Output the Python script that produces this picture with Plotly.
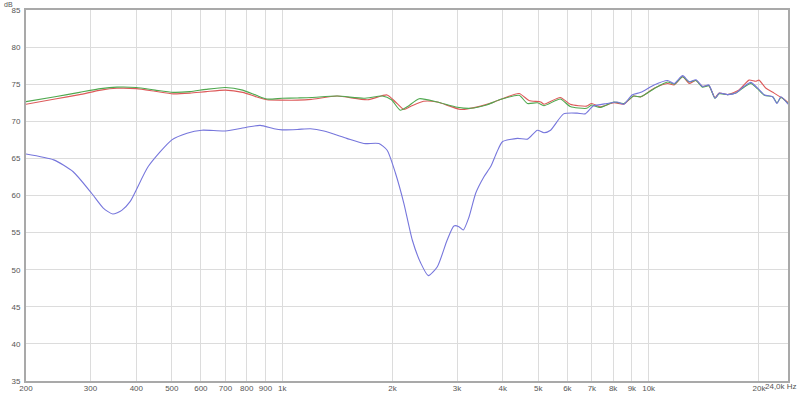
import plotly.graph_objects as go
import math

# ---- data (Hz, dB) ----
low_f = [200, 240, 280, 320, 354, 400, 450, 504, 560, 620, 700, 780, 850, 909, 1000]
green_low = [72.65, 73.3, 73.9, 74.4, 74.6, 74.55, 74.2, 73.9, 74.0, 74.3, 74.55, 74.2, 73.5, 73.0, 73.1]
red_low = [72.3, 73.0, 73.6, 74.2, 74.45, 74.4, 74.05, 73.7, 73.8, 74.0, 74.2, 73.9, 73.3, 72.9, 72.85]

green_f = [1100, 1200, 1412, 1670, 1875, 1987, 2100, 2200, 2365, 2650, 3005, 3265, 3610, 3920,
           4430, 4670, 4970, 5180, 5740, 6110, 6770, 6990, 7360, 8040, 8550, 9100, 9520, 10350,
           11260, 11740, 12380, 12900, 13460, 14030, 14600, 15170, 15580, 16430, 17300, 18200,
           19000, 19800, 20700, 21800, 22400, 22960, 24000]
green_hi = [73.15, 73.2, 73.4, 73.1, 73.4, 72.9, 71.5, 72.0, 73.05, 72.6, 71.9, 71.75, 72.2, 72.9,
            73.5, 72.4, 72.5, 72.1, 73.0, 72.0, 71.75, 72.2, 71.85, 72.6, 72.4, 73.4, 73.3, 74.4,
            75.3, 75.0, 76.0, 75.3, 75.5, 74.6, 74.8, 73.1, 73.7, 73.6, 73.8, 74.6,
            75.1, 74.4, 73.5, 73.3, 72.5, 73.2, 72.4]

red_f = [1100, 1200, 1412, 1710, 1933, 2038, 2148, 2240, 2430, 2650, 3070, 3480, 3785, 4430,
         4715, 5075, 5180, 5740, 6110, 6770, 6990, 7360, 8040, 8550, 9100, 9520, 10350, 11260,
         11740, 12380, 12900, 13460, 14030, 14600, 15170, 15580, 16430, 17600, 18200, 18800,
         19600, 20000, 20900, 22000, 23200, 24000]
red_hi = [72.85, 72.95, 73.4, 72.9, 73.55, 72.6, 71.6, 72.0, 72.7, 72.6, 71.6, 72.05, 72.6, 73.75,
          72.8, 72.6, 72.3, 73.2, 72.3, 72.05, 72.4, 71.95, 72.5, 72.3, 73.4, 73.3, 74.45, 75.1,
          74.9, 76.0, 75.1, 75.5, 74.7, 74.8, 73.2, 73.8, 73.6, 74.2, 74.9, 75.55,
          75.4, 75.55, 74.45, 73.8, 73.1, 72.55]

blue_f = [200, 238, 269, 302, 325, 345, 365, 385, 431, 500, 550, 604, 700, 800, 871, 950, 1000,
          1100, 1194, 1300, 1500, 1670, 1836, 1934, 2038, 2148, 2265, 2388, 2505, 2651, 2820,
          2942, 3036, 3120, 3235, 3373, 3550, 3707, 3850, 3990, 4385, 4670, 4970, 5180, 5400,
          5860, 6380, 6700, 7060, 7690, 8200, 8550, 9010, 9520, 10350, 11260, 11740, 12380,
          12900, 13460, 14030, 14600, 15170, 15580, 16430, 17300, 18200, 19000, 19800, 20700,
          21800, 22400, 22960, 24000]
blue_db = [65.6, 64.8, 63.2, 60.3, 58.3, 57.5, 58.0, 59.2, 63.9, 67.5, 68.4, 68.8, 68.7, 69.2, 69.45, 69.0, 68.85,
           68.9, 69.0, 68.7, 67.7, 67.0, 67.0, 66.1, 63.0, 58.95, 54.0, 50.9, 49.2, 50.4, 54.0,
           55.9, 55.8, 55.35, 57.1, 60.3, 62.5, 63.9, 65.8, 67.25, 67.7, 67.6, 68.8, 68.45, 68.8,
           71.0, 71.1, 71.0, 72.05, 72.4, 72.6, 72.3, 73.55, 73.9, 74.9, 75.5, 75.1, 76.15,
           75.35, 75.6, 74.7, 74.9, 73.1, 73.8, 73.6, 73.8, 74.7, 75.25, 74.5, 73.55,
           73.3, 72.4, 73.3, 72.3]

x_ticks = [200, 300, 400, 500, 600, 700, 800, 900, 1000, 2000, 3000, 4000, 5000, 6000,
           7000, 8000, 9000, 10000, 20000]
x_labels = ["200", "300", "400", "500", "600", "700", "800", "900", "1k", "2k", "3k", "4k",
            "5k", "6k", "7k", "8k", "9k", "10k", "20k"]
y_ticks = [35, 40, 45, 50, 55, 60, 65, 70, 75, 80, 85]

red_f_all = low_f + red_f
red_all = red_low + red_hi
green_f_all = low_f + green_f
green_all = green_low + green_hi

fig = go.Figure()
fig.add_trace(go.Scatter(x=red_f_all, y=red_all, mode="lines",
                         line=dict(color="#dd5a5a", width=1.1, shape="spline", smoothing=0.6)))
fig.add_trace(go.Scatter(x=green_f_all, y=green_all, mode="lines",
                         line=dict(color="#4fa84f", width=1.1, shape="spline", smoothing=0.6)))
fig.add_trace(go.Scatter(x=blue_f, y=blue_db, mode="lines",
                         line=dict(color="#7676dc", width=1.1, shape="spline", smoothing=0.6)))

font = dict(family="Liberation Sans", size=8, color="#555555")
fig.update_layout(
    width=800, height=393,
    margin=dict(l=26, r=12, t=10, b=12, autoexpand=False),
    paper_bgcolor="white", plot_bgcolor="white",
    showlegend=False,
    font=font,
    xaxis=dict(type="log", range=[math.log10(200), math.log10(24000)],
               tickvals=x_ticks, ticktext=x_labels, tickfont=font, tickangle=0,
               automargin=False,
               showgrid=True, gridcolor="#dcdcdc", gridwidth=1,
               showline=True, linecolor="#a9a9a9", linewidth=2, mirror=True,
               ticks="", ticklabelstandoff=-2, zeroline=False),
    yaxis=dict(range=[35, 85], tickvals=y_ticks, tickfont=font, automargin=False,
               showgrid=True, gridcolor="#dcdcdc", gridwidth=1,
               showline=True, linecolor="#a9a9a9", linewidth=2, mirror=True,
               ticks="", ticklabelstandoff=2, zeroline=False),
    annotations=[
        dict(text="24,0k Hz", xref="paper", yref="paper", x=1, y=0, xshift=11, yshift=1,
             xanchor="right", yanchor="top", showarrow=False, font=font),
        dict(text="dB", xref="paper", yref="paper", x=0, y=1, xshift=-12, yshift=10,
             xanchor="right", yanchor="top", showarrow=False, borderpad=0,
             font=dict(family="Liberation Sans", size=7, color="#555555")),
    ],
)

fig.write_html("out.html")
